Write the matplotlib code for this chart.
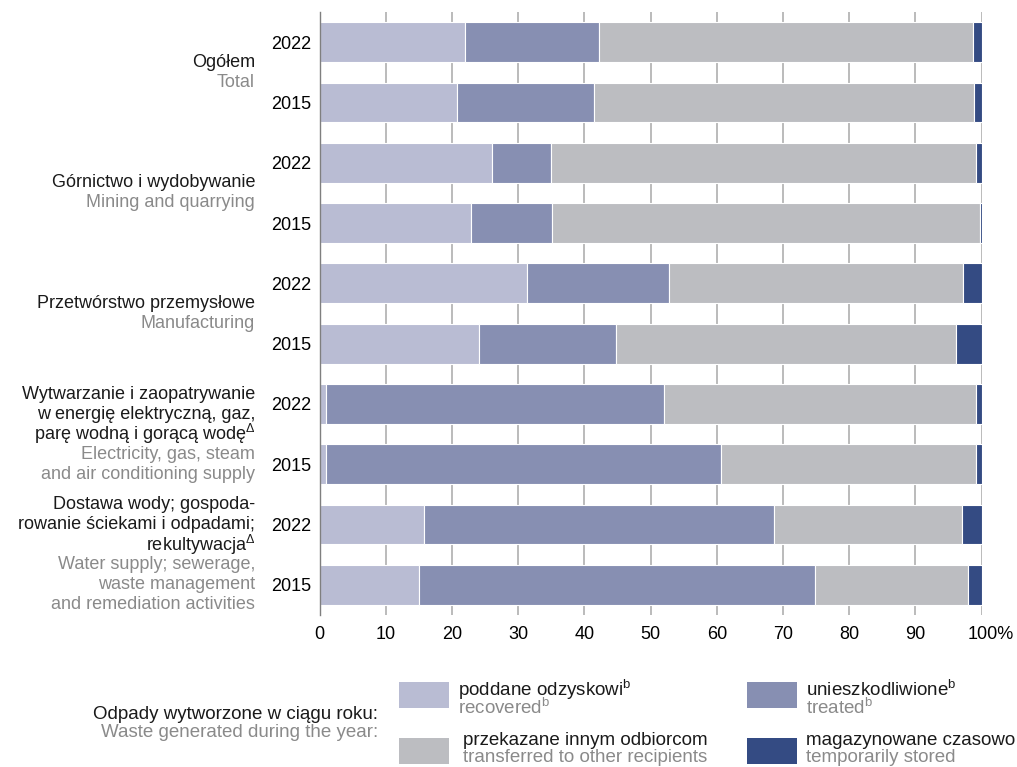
import matplotlib
matplotlib.use('Agg')
import matplotlib.pyplot as plt
import numpy as np
from matplotlib.patches import Rectangle
from matplotlib.transforms import blended_transform_factory, ScaledTranslation

plt.rcParams['font.family'] = ['Liberation Sans', 'DejaVu Sans']
plt.rcParams['mathtext.fontset'] = 'custom'
plt.rcParams['mathtext.rm'] = 'Liberation Sans'
plt.rcParams['mathtext.it'] = 'Liberation Sans:italic'
plt.rcParams['mathtext.bf'] = 'Liberation Sans:bold'

# Data (shares in %), rows from top to bottom
years = ['2022', '2015'] * 5
groups_pl = [
    ['Ogółem'],
    ['Górnictwo i wydobywanie'],
    ['Przetwórstwo przemysłowe'],
    ['Wytwarzanie i zaopatrywanie', 'w energię elektryczną, gaz,', r'parę wodną i gorącą wodę$^{\Delta}$'],
    ['Dostawa wody; gospoda-', 'rowanie ściekami i odpadami;', r'rekultywacja$^{\Delta}$'],
]
groups_en = [
    ['Total'],
    ['Mining and quarrying'],
    ['Manufacturing'],
    ['Electricity, gas, steam', 'and air conditioning supply'],
    ['Water supply; sewerage,', 'waste management', 'and remediation activities'],
]
recovered   = [21.9, 20.8, 26.0, 22.8, 31.4, 24.1, 1.0, 1.0, 15.7, 15.0]
treated     = [20.3, 20.7, 9.0, 12.3, 21.3, 20.6, 51.0, 59.7, 53.0, 59.8]
transferred = [56.5, 57.3, 64.1, 64.6, 44.5, 51.4, 47.1, 38.5, 28.3, 23.1]
stored      = [1.3, 1.2, 0.9, 0.3, 2.8, 3.9, 0.9, 0.8, 3.0, 2.1]
xticks = [0, 10, 20, 30, 40, 50, 60, 70, 80, 90, 100]

series = [recovered, treated, transferred, stored]
colors = ['#b9bcd3', '#878fb2', '#bcbdc1', '#344b83']
leg_pl = [r'poddane odzyskowi$^{\mathrm{b}}$', r'unieszkodliwione$^{\mathrm{b}}$',
          'przekazane innym odbiorcom', 'magazynowane czasowo']
leg_en = [r'recovered$^{\mathrm{b}}$', r'treated$^{\mathrm{b}}$',
          'transferred to other recipients', 'temporarily stored']

fig = plt.figure(figsize=(10.17, 7.67), dpi=100)
ax = fig.add_axes([0.3142, 0.1982, 0.6511, 0.7862])

y = np.arange(len(years))
left = np.zeros(len(years))
for vals, c in zip(series, colors):
    ax.barh(y, vals, left=left, height=0.66, color=c, edgecolor='white', linewidth=0.8, zorder=2)
    left += np.array(vals)

ax.set_xlim(0, 100)
ax.set_ylim(9.5, -0.5)
ax.set_xticks(xticks)
ax.set_xticklabels([str(t) for t in xticks[:-1]] + ['100%'], fontsize=13)
ax.set_yticks(y)
ax.set_yticklabels(years, fontsize=13)
ax.tick_params(axis='both', length=0, pad=6)
ax.tick_params(axis='x', pad=8)
for s in ['top', 'right', 'bottom']:
    ax.spines[s].set_visible(False)
ax.spines['left'].set_color('#7f7f7f')
ax.spines['left'].set_linewidth(1.0)
ax.grid(axis='x', color='#a8a8a8', linewidth=1.1, zorder=0)
ax.set_axisbelow(True)

# shift "100%" so that the number sits on the tick
lab = ax.get_xticklabels()[-1]
lab.set_transform(lab.get_transform() + ScaledTranslation(6.5 / 72, 0, fig.dpi_scale_trans))

# category labels
tr = blended_transform_factory(fig.transFigure, ax.transData)
step = 14.4  # points
for i, (pl, en) in enumerate(zip(groups_pl, groups_en)):
    yc = 2 * i + 0.5
    lines = [(t, '#1a1a1a') for t in pl] + [(t, '#8a8a8a') for t in en]
    n = len(lines)
    for k, (t, c) in enumerate(lines):
        off = -(k - (n - 1) / 2) * step
        ax.text(0.2508, yc, t, ha='right', va='center', fontsize=13, color=c,
                transform=tr + ScaledTranslation(0, off / 72, fig.dpi_scale_trans))

# legend
fig.text(0.3717, 0.0626, 'Odpady wytworzone w ciągu roku:', ha='right', va='baseline',
         fontsize=13.5, color='#1a1a1a')
fig.text(0.3717, 0.0391, 'Waste generated during the year:', ha='right', va='baseline',
         fontsize=13.5, color='#8a8a8a')
pos = [(0.3923, 0.0769, 0.4504, 0.0926, 0.0691),
       (0.7345, 0.0769, 0.7925, 0.0926, 0.0691),
       (0.3923, 0.0039, 0.4553, 0.0287, 0.0059),
       (0.7345, 0.0039, 0.7925, 0.0287, 0.0059)]
for j, (px, py, tx, ty1, ty2) in enumerate(pos):
    fig.add_artist(Rectangle((px, py), 0.0495, 0.0345, transform=fig.transFigure,
                             color=colors[j], lw=0))
    fig.text(tx, ty1, leg_pl[j], ha='left', va='baseline', fontsize=13.5, color='#1a1a1a')
    fig.text(tx, ty2, leg_en[j], ha='left', va='baseline', fontsize=13.5, color='#8a8a8a')

fig.savefig('out.png', dpi=100)
